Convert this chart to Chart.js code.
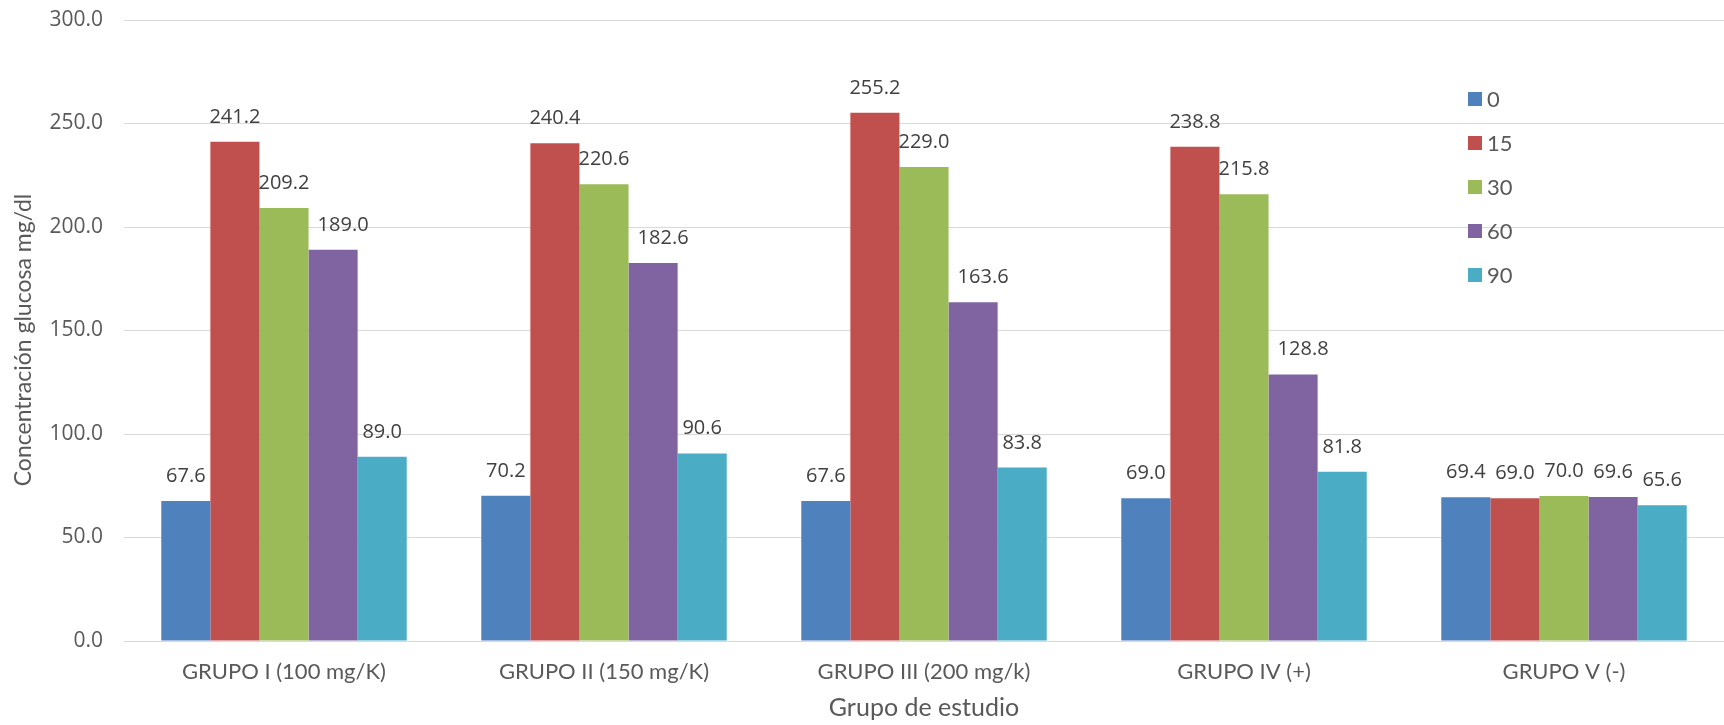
<!DOCTYPE html>
<html>
<head>
<meta charset="utf-8">
<script src="https://cdn.jsdelivr.net/npm/chart.js@4"></script>
<style>
  html, body { margin: 0; padding: 0; background: #ffffff; }
  #wrap { width: 1724px; height: 725px; position: relative; }
</style>
</head>
<body>
<div id="wrap"><canvas id="c" width="1724" height="725"></canvas></div>
<script>
const categories = ['GRUPO I (100 mg/K)', 'GRUPO II (150 mg/K)', 'GRUPO III (200 mg/k)', 'GRUPO IV (+)', 'GRUPO V (-)'];
const seriesNames = ['0', '15', '30', '60', '90'];
const series0  = [67.6, 70.2, 67.6, 69.0, 69.4];
const series15 = [241.2, 240.4, 255.2, 238.8, 69.0];
const series30 = [209.2, 220.6, 229.0, 215.8, 70.0];
const series60 = [189.0, 182.6, 163.6, 128.8, 69.6];
const series90 = [89.0, 90.6, 83.8, 81.8, 65.6];
const seriesColors = ['#4F81BD', '#C0504D', '#9BBB59', '#8064A2', '#4BACC6'];
const yAxisTitle = 'Concentración glucosa mg/dl';
const xAxisTitle = 'Grupo de estudio';
const yMin = 0, yMax = 300, yStep = 50;

const allSeries = [series0, series15, series30, series60, series90];

const dataLabelPlugin = {
  id: 'dataLabels',
  afterDatasetsDraw(chart) {
    const ctx = chart.ctx;
    ctx.save();
    ctx.font = '20px "Open Sans"';
    ctx.fillStyle = '#404040';
    ctx.textAlign = 'center';
    ctx.textBaseline = 'alphabetic';
    chart.data.datasets.forEach((ds, i) => {
      const meta = chart.getDatasetMeta(i);
      meta.data.forEach((bar, j) => {
        // labels of the "60" series in the first four groups sit slightly right of centre
        const dx = (i === 3 && j < 4) ? 10 : 0;
        ctx.fillText(Number(ds.data[j]).toFixed(1), bar.x + dx, bar.y - 19);
      });
    });
    ctx.restore();
  }
};

const legendPlugin = {
  id: 'insideLegend',
  afterDraw(chart) {
    const ctx = chart.ctx;
    ctx.save();
    ctx.font = '22px Lato';
    ctx.textAlign = 'left';
    ctx.textBaseline = 'middle';
    chart.data.datasets.forEach((ds, i) => {
      const cy = 99 + i * 44;
      ctx.fillStyle = ds.backgroundColor;
      ctx.fillRect(1468, cy - 7, 14, 14);
      ctx.fillStyle = '#595959';
      ctx.fillText(ds.label, 1487, cy + 1);
    });
    ctx.restore();
  }
};

const yTitlePlugin = {
  id: 'yTitle',
  afterDraw(chart) {
    const ctx = chart.ctx;
    ctx.save();
    ctx.font = '23px Lato';
    ctx.fillStyle = '#595959';
    ctx.textAlign = 'center';
    ctx.textBaseline = 'middle';
    ctx.translate(24, 340);
    ctx.rotate(-Math.PI / 2);
    ctx.fillText(yAxisTitle, 0, 0);
    ctx.restore();
  }
};

new Chart(document.getElementById('c'), {
  type: 'bar',
  data: {
    labels: categories,
    datasets: allSeries.map((d, i) => ({
      label: seriesNames[i],
      data: d,
      backgroundColor: seriesColors[i],
      borderWidth: 0,
      categoryPercentage: 0.767,
      barPercentage: 1.0
    }))
  },
  options: {
    responsive: false,
    animation: false,
    devicePixelRatio: 1,
    layout: { padding: { left: 0, right: 0, top: 20, bottom: 0 } },
    plugins: {
      legend: { display: false },
      tooltip: { enabled: false }
    },
    scales: {
      x: {
        grid: { display: false, drawTicks: false },
        border: { display: true, color: '#D9D9D9', width: 1 },
        ticks: { color: '#595959', font: { family: 'Lato', size: 22 }, padding: 18, maxRotation: 0 },
        title: { display: true, text: xAxisTitle, color: '#595959', font: { family: 'Lato', size: 25 }, padding: { top: 0, bottom: 2 } },
        afterFit(scale) { scale.height = 84; }
      },
      y: {
        min: yMin, max: yMax,
        grid: { color: '#D9D9D9', lineWidth: 1, drawTicks: true, tickLength: 21, tickColor: 'rgba(0,0,0,0)' },
        border: { display: false },
        ticks: {
          stepSize: yStep, color: '#595959', padding: 0,
          font: { family: 'Open Sans', size: 21 },
          callback: (v) => Number(v).toFixed(1)
        },
        title: { display: false },
        afterFit(scale) { scale.width = 124; }
      }
    }
  },
  plugins: [dataLabelPlugin, legendPlugin, yTitlePlugin]
});
</script>
</body>
</html>
